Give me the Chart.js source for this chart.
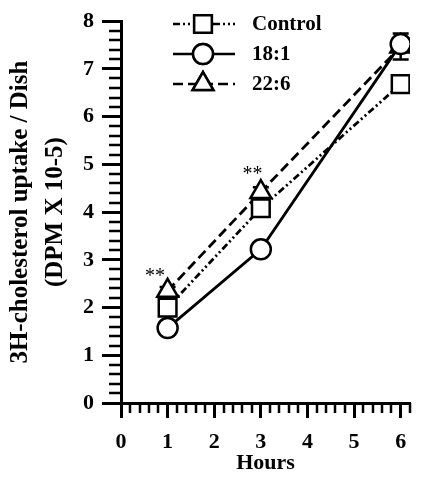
<!DOCTYPE html>
<html>
<head>
<meta charset="utf-8">
<script src="https://cdn.jsdelivr.net/npm/chart.js@4.4.1/dist/chart.umd.min.js"></script>
<style>
  html, body { margin: 0; padding: 0; background: #fff; }
  #wrap { width: 425px; height: 481px; }
</style>
</head>
<body>
<div id="wrap"><canvas id="uptakeChart" width="425" height="481"></canvas></div>
<script>
// values
const hours = [1, 3, 6];
const controlVals = [2.0, 4.08, 6.68];
const oleicVals = [1.57, 3.22, 7.52];
const dhaVals = [2.35, 4.42, 7.47];
const controlErr = [0.06, 0.08, 0.05];
const oleicErr = [0.05, 0.06, 0.12];
const dhaErr = [0.08, 0.1, 0.27];
const xTickValues = [0, 1, 2, 3, 4, 5, 6];
const seriesNames = ['Control', '18:1', '22:6'];
const starMarks = [[0.73, 2.73], [2.82, 4.87]];

const FONT = "'Liberation Serif', 'Times New Roman', serif";
const errs = [controlErr, oleicErr, dhaErr];

// minor ticks every 0.2 on both axes
const minorTicks = {
    id: 'minorTicks',
    afterDraw(chart) {
        const ctx = chart.ctx;
        const xs = chart.scales.x, ys = chart.scales.y;
        ctx.save();
        ctx.strokeStyle = '#000';
        ctx.lineWidth = 2.5;
        ctx.beginPath();
        for (let i = 0; i <= 31; i++) {
            if (i % 5 === 0) continue;
            const px = Math.round(xs.getPixelForValue(i / 5));
            ctx.moveTo(px, xs.top);
            ctx.lineTo(px, xs.top + 10);
        }
        for (let i = 0; i <= 40; i++) {
            if (i % 5 === 0) continue;
            const py = Math.round(ys.getPixelForValue(i / 5));
            ctx.moveTo(ys.right, py);
            ctx.lineTo(ys.right - 12, py);
        }
        ctx.stroke();
        ctx.restore();
    }
};

const errorBars = {
    id: 'errorBars',
    beforeDatasetsDraw(chart) {
        const ctx = chart.ctx;
        const xs = chart.scales.x, ys = chart.scales.y;
        ctx.save();
        ctx.strokeStyle = '#000';
        ctx.lineWidth = 2.5;
        chart.data.datasets.forEach((ds, di) => {
            ds.data.forEach((p, i) => {
                const px = xs.getPixelForValue(p.x);
                const top = ys.getPixelForValue(p.y + errs[di][i]);
                const bot = ys.getPixelForValue(p.y - errs[di][i]);
                ctx.beginPath();
                ctx.moveTo(px, top); ctx.lineTo(px, bot);
                ctx.moveTo(px - 8, top); ctx.lineTo(px + 8, top);
                ctx.moveTo(px - 8, bot); ctx.lineTo(px + 8, bot);
                ctx.stroke();
            });
        });
        ctx.restore();
    }
};

const extras = {
    id: 'extras',
    afterDraw(chart) {
        const ctx = chart.ctx;
        const xs = chart.scales.x, ys = chart.scales.y;
        ctx.save();
        // significance marks
        ctx.fillStyle = '#000';
        ctx.font = "20px " + FONT;
        ctx.textAlign = 'center';
        ctx.textBaseline = 'middle';
        starMarks.forEach(s => {
            ctx.fillText('**', xs.getPixelForValue(s[0]), ys.getPixelForValue(s[1]) + 4);
        });
        // legend: line sample + marker + label
        chart.data.datasets.forEach((ds, i) => {
            const y = 24 + i * 30;
            ctx.strokeStyle = '#000';
            ctx.lineWidth = 2.5;
            ctx.setLineDash(ds.borderDash || []);
            ctx.beginPath();
            ctx.moveTo(173, y); ctx.lineTo(235, y);
            ctx.stroke();
            ctx.setLineDash([]);
            ctx.fillStyle = '#fff';
            Chart.helpers.drawPoint(ctx, {
                pointStyle: ds.pointStyle,
                rotation: 0,
                radius: ds.pointRadius,
                borderWidth: ds.pointBorderWidth
            }, 203, y);
            ctx.fill();
            ctx.stroke();
            ctx.fillStyle = '#000';
            ctx.font = "bold 21px " + FONT;
            ctx.textAlign = 'left';
            ctx.fillText(seriesNames[i], 252, y + 1);
        });
        ctx.restore();
    }
};

function series(label, vals, style, radius, dash) {
    return {
        label: label,
        data: vals.map((v, i) => ({ x: hours[i], y: v })),
        borderColor: '#000',
        borderWidth: 2.8,
        borderDash: dash,
        backgroundColor: '#fff',
        pointStyle: style,
        pointRadius: radius,
        pointBorderWidth: 2.5,
        pointBackgroundColor: '#fff',
        pointBorderColor: '#000',
        tension: 0
    };
}

new Chart(document.getElementById('uptakeChart').getContext('2d'), {
    type: 'line',
    data: {
        datasets: [
            series(seriesNames[0], controlVals, 'rect', 12.5, [7, 3, 2, 3, 2, 3]),
            series(seriesNames[1], oleicVals, 'circle', 10, []),
            series(seriesNames[2], dhaVals, 'triangle', 12, [10, 5])
        ]
    },
    options: {
        responsive: false,
        animation: false,
        layout: { padding: { top: 19, right: 5, left: 0, bottom: 0 } },
        plugins: {
            legend: { display: false },
            tooltip: { enabled: false }
        },
        scales: {
            x: {
                type: 'linear',
                min: 0,
                max: 6.2,
                afterBuildTicks: s => { s.ticks = xTickValues.map(v => ({ value: v })); },
                afterFit: s => { s.height = 78; },
                border: { color: '#000', width: 3 },
                grid: { drawOnChartArea: false, tickLength: 15, tickWidth: 3, tickColor: '#000' },
                ticks: { color: '#000', padding: 11, font: { family: FONT, size: 22, weight: 'bold' } },
                title: { display: true, text: 'Hours', color: '#000', padding: { top: 4 }, font: { family: FONT, size: 22, weight: 'bold' } }
            },
            y: {
                min: 0,
                max: 8,
                afterFit: s => { s.width = 121; },
                border: { color: '#000', width: 3 },
                grid: { drawOnChartArea: false, tickLength: 19, tickWidth: 3, tickColor: '#000' },
                ticks: { stepSize: 1, color: '#000', padding: 8, font: { family: FONT, size: 22, weight: 'bold' } },
                title: {
                    display: true,
                    text: ['3H-cholesterol uptake / Dish', '(DPM X 10-5)'],
                    color: '#000',
                    padding: { top: 3, bottom: 0 },
                    font: { family: FONT, size: 25, weight: 'bold', lineHeight: 1.4 }
                }
            }
        }
    },
    plugins: [errorBars, minorTicks, extras]
});
</script>
</body>
</html>
